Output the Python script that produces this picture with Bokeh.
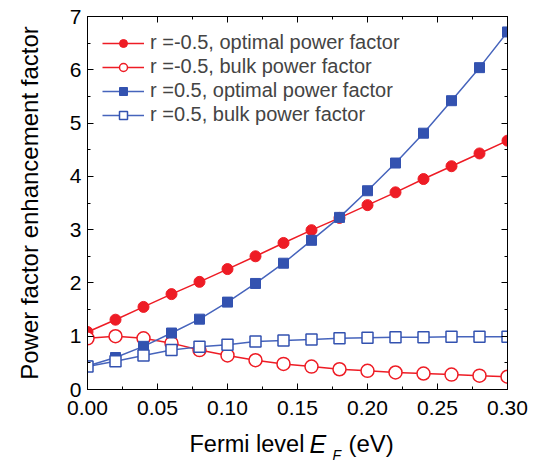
from bokeh.plotting import figure
from bokeh.layouts import column
from bokeh.models import (LinearAxis, Legend, LegendItem, Range1d,
                          FixedTicker, NumeralTickFormatter, CustomJSTickFormatter)
from bokeh.core.properties import value
from bokeh.embed import file_html
from bokeh.resources import INLINE

# ---- data ----
fermi_level = [0.00, 0.02, 0.04, 0.06, 0.08, 0.10, 0.12, 0.14,
               0.16, 0.18, 0.20, 0.22, 0.24, 0.26, 0.28, 0.30]
neg_optimal = [1.08, 1.31, 1.55, 1.79, 2.02, 2.26, 2.50, 2.75,
               2.99, 3.22, 3.46, 3.70, 3.95, 4.19, 4.43, 4.67]
neg_bulk = [0.96, 1.00, 0.96, 0.87, 0.74, 0.64, 0.55, 0.48,
            0.43, 0.38, 0.35, 0.32, 0.30, 0.28, 0.26, 0.24]
pos_optimal = [0.44, 0.60, 0.81, 1.06, 1.32, 1.64, 1.99, 2.37,
               2.80, 3.23, 3.73, 4.25, 4.81, 5.42, 6.04, 6.71]
pos_bulk = [0.43, 0.53, 0.64, 0.74, 0.80, 0.84, 0.90, 0.92,
            0.94, 0.96, 0.97, 0.98, 0.98, 0.99, 0.99, 0.99]
legend_labels = ["r =-0.5, optimal power factor",
                 "r =-0.5, bulk power factor",
                 "r =0.5, optimal power factor",
                 "r =0.5, bulk power factor"]
x_ticks = [0.00, 0.05, 0.10, 0.15, 0.20, 0.25, 0.30]
x_minor_ticks = [0.025, 0.075, 0.125, 0.175, 0.225, 0.275]
y_ticks = [0, 1, 2, 3, 4, 5, 6, 7]
y_minor_ticks = [0.5, 1.5, 2.5, 3.5, 4.5, 5.5, 6.5]
y_title = "Power factor enhancement factor"
x_title_parts = ["Fermi level", "E", "F", "(eV)"]

RED = "#EE1C25"
BLUE = "#3352B0"
BLUE_LINE = "#4664BC"
FONT = "Liberation Sans"

p = figure(width=537, height=427, output_backend="svg", toolbar_location=None,
           x_range=Range1d(0, 0.30), y_range=Range1d(0, 7),
           min_border_left=87, min_border_right=30, min_border_top=16,
           min_border_bottom=38, background_fill_color="white",
           border_fill_color="white")
p.outline_line_color = "black"
p.outline_line_width = 1
p.xgrid.visible = False
p.ygrid.visible = False

xt = FixedTicker(ticks=x_ticks, minor_ticks=x_minor_ticks)
yt = FixedTicker(ticks=y_ticks, minor_ticks=y_minor_ticks)

def style(ax, labels=True):
    ax.axis_line_color = "black"
    ax.major_tick_in = 6
    ax.major_tick_out = 0
    ax.minor_tick_in = 3
    ax.minor_tick_out = 0
    ax.major_tick_line_color = "black"
    ax.minor_tick_line_color = "black"
    if labels:
        ax.major_label_text_font = FONT
        ax.major_label_text_font_size = "21px"
        ax.major_label_text_color = "black"
    else:
        ax.formatter = CustomJSTickFormatter(code="return ''")
        ax.major_label_standoff = 0

p.xaxis.ticker = xt
p.yaxis.ticker = yt
p.xaxis.formatter = NumeralTickFormatter(format="0.00")
style(p.xaxis[0])
style(p.yaxis[0])
p.xaxis.major_label_standoff = 11
p.yaxis.major_label_standoff = 6

top = LinearAxis(ticker=xt)
style(top, labels=False)
p.add_layout(top, "above")
right = LinearAxis(ticker=yt)
style(right, labels=False)
p.add_layout(right, "right")

p.yaxis[0].axis_label = y_title
p.yaxis[0].axis_label_text_font = FONT
p.yaxis[0].axis_label_text_font_size = "24px"
p.yaxis[0].axis_label_text_font_style = "normal"
p.yaxis[0].axis_label_text_color = "black"
p.yaxis[0].axis_label_standoff = 24

r1 = p.line(fermi_level, neg_optimal, line_color=RED, line_width=1.5)
m1 = p.scatter(fermi_level, neg_optimal, marker="circle", size=11,
               fill_color=RED, line_color=RED)
r2 = p.line(fermi_level, neg_bulk, line_color=RED, line_width=1.5)
m2 = p.scatter(fermi_level, neg_bulk, marker="circle", size=13,
               fill_color="white", line_color=RED, line_width=1.5)
r3 = p.line(fermi_level, pos_optimal, line_color=BLUE_LINE, line_width=1.5)
m3 = p.scatter(fermi_level, pos_optimal, marker="square", size=10,
               fill_color=BLUE, line_color=BLUE)
r4 = p.line(fermi_level, pos_bulk, line_color=BLUE_LINE, line_width=1.5)
m4 = p.scatter(fermi_level, pos_bulk, marker="square", size=11,
               fill_color="white", line_color=BLUE, line_width=1.5)

items = [LegendItem(label=legend_labels[0], renderers=[r1, m1]),
         LegendItem(label=legend_labels[1], renderers=[r2, m2]),
         LegendItem(label=legend_labels[2], renderers=[r3, m3]),
         LegendItem(label=legend_labels[3], renderers=[r4, m4])]
legend = Legend(items=items, location=(15, 263), border_line_color=None,
                background_fill_alpha=0, margin=0, padding=0, spacing=1,
                glyph_width=42, glyph_height=20, label_standoff=6,
                label_text_font=FONT, label_text_font_size="20px",
                label_height=20)
p.add_layout(legend, "center")

# ---- x-axis title strip (italic E with subscript F) ----
# frames of a column are aligned, so this strip's frame spans the plot frame
q = figure(width=537, height=36, output_backend="svg", toolbar_location=None,
           x_range=Range1d(87, 507), y_range=Range1d(463, 427),
           min_border=0, min_border_left=87, min_border_right=30,
           min_border_top=0, min_border_bottom=0,
           background_fill_color="white", border_fill_color="white")
q.outline_line_color = None
q.axis.visible = False
q.xgrid.visible = False
q.ygrid.visible = False
tk = dict(text_font=value(FONT), text_color="black", text_baseline="alphabetic")
q.text(x=[189], y=[443], text=[x_title_parts[0]], text_font_size="23.5px", **tk)
q.text(x=[309], y=[443], text=[x_title_parts[1]], text_font_style="italic",
       text_font_size="25px", **tk)
q.text(x=[332], y=[454], text=[x_title_parts[2]], text_font_style="italic",
       text_font_size="14px", **tk)
q.text(x=[348], y=[443], text=[x_title_parts[3]], text_font_size="24px", **tk)

layout = column(p, q, spacing=0)
open("out.html", "w").write(file_html(layout, INLINE))
